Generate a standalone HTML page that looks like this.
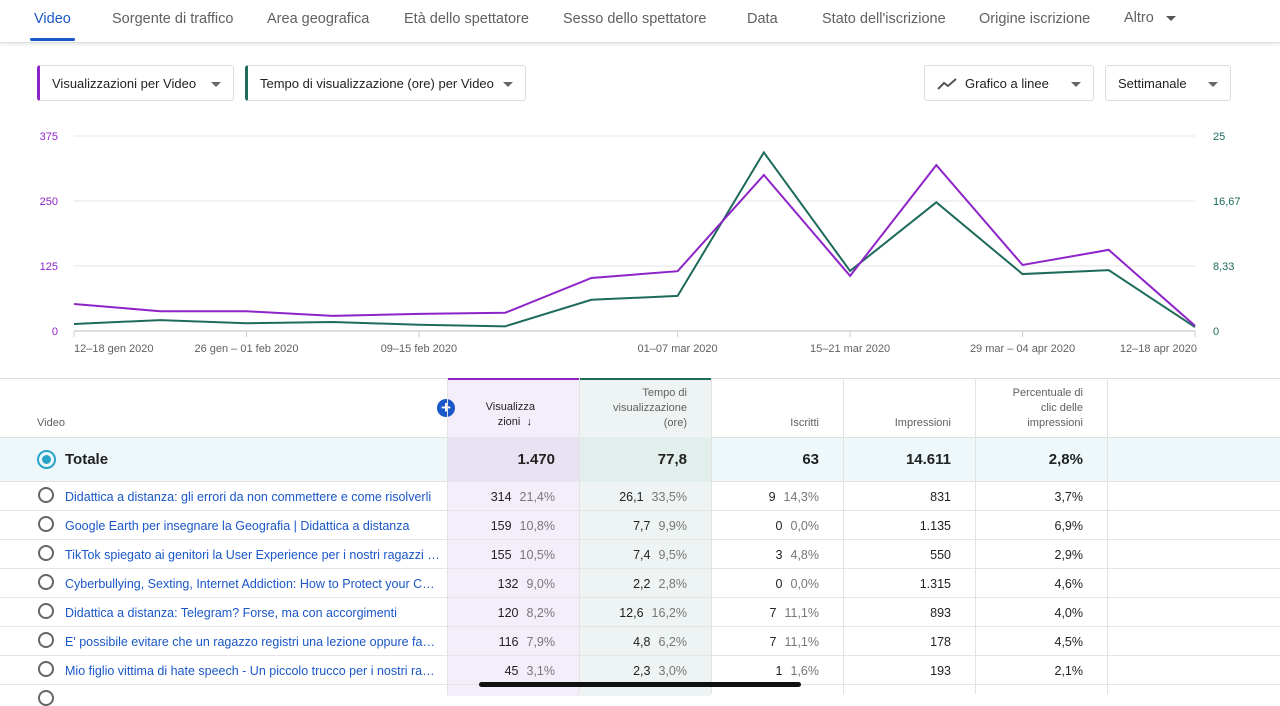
<!DOCTYPE html>
<html><head><meta charset="utf-8"><style>
body{margin:0;width:1280px;height:694px;overflow:hidden;font-family:"Liberation Sans",sans-serif;background:#fff;position:relative;color:#222}
.tab{position:absolute;top:11px;font-size:14.5px;color:#606060}
.dd{position:absolute;top:65px;height:36px;border:1px solid #ddd;border-radius:3px;box-sizing:border-box;font-size:13px;line-height:36px;padding-left:12px;color:#222}
.dd .ar{position:absolute;right:12px;top:16px;width:0;height:0;border-left:5px solid transparent;border-right:5px solid transparent;border-top:5px solid #666}
.cell{position:absolute;font-size:12.5px;text-align:right;box-sizing:border-box;padding-right:24px}
.row{position:absolute;left:0;width:1280px;height:29px;border-bottom:1px solid #e5e5e5;box-sizing:border-box}
.radio{position:absolute;left:38px;width:16px;height:16px;border:2px solid #666;border-radius:50%;box-sizing:border-box}
.title{position:absolute;left:65px;font-size:12.5px;color:#1a57c9;white-space:nowrap;overflow:hidden;text-overflow:ellipsis;width:375px}
.pct{color:#777;margin-left:8px}
</style></head><body>
<div style="position:absolute;left:0;top:0;width:1280px;height:42px;border-bottom:1px solid #ddd;box-shadow:0 2px 3px rgba(0,0,0,.08)"></div>
<div class="tab" style="left:34px;color:#1a57c9">Video</div>
<div style="position:absolute;left:30px;top:38px;width:45px;height:3px;background:#1a57c9;border-radius:2px"></div>
<div class="tab" style="left:112px">Sorgente di traffico</div>
<div class="tab" style="left:267px">Area geografica</div>
<div class="tab" style="left:404px">Età dello spettatore</div>
<div class="tab" style="left:563px">Sesso dello spettatore</div>
<div class="tab" style="left:747px">Data</div>
<div class="tab" style="left:822px">Stato dell'iscrizione</div>
<div class="tab" style="left:979px">Origine iscrizione</div>
<div class="tab" style="left:1124px;top:10px">Altro <span style="display:inline-block;margin-left:8px;border-left:5px solid transparent;border-right:5px solid transparent;border-top:5px solid #555;vertical-align:middle"></span></div>

<div class="dd" style="left:37px;width:197px;border-left:3px solid #8e24c8">Visualizzazioni per Video<span class="ar"></span></div>
<div class="dd" style="left:245px;width:281px;border-left:3px solid #1e6b5c">Tempo di visualizzazione (ore) per Video<span class="ar"></span></div>
<div class="dd" style="left:924px;width:170px;padding-left:40px"><svg style="position:absolute;left:12px;top:11px" width="20" height="14"><polyline points="1,12 7,6 11,9 19,2" fill="none" stroke="#555" stroke-width="2"/></svg>Grafico a linee<span class="ar"></span></div>
<div class="dd" style="left:1105px;width:126px">Settimanale<span class="ar"></span></div>

<svg id="chart" width="1280" height="370" style="position:absolute;left:0;top:0"></svg>

<div style="position:absolute;left:0;top:378px;width:1280px;height:316px;border-top:1px solid #ddd">
<div style="position:absolute;left:447px;top:0;width:132px;height:316px;background:#f4eefa;border-top:2px solid #8e24c8;margin-top:-1px"></div>
<div style="position:absolute;left:579px;top:0;width:132px;height:316px;background:#eef4f3;border-top:2px solid #1e6b5c;margin-top:-1px"></div>
</div>
<div id="tbl"></div>
<div style="position:absolute;left:479px;top:682px;width:322px;height:5px;background:#111;border-radius:3px"></div>

<script>
const categories=["12–18 gen 2020","19–25 gen 2020","26 gen – 01 feb 2020","02–08 feb 2020","09–15 feb 2020","16–22 feb 2020","23–29 feb 2020","01–07 mar 2020","08–14 mar 2020","15–21 mar 2020","22–28 mar 2020","29 mar – 04 apr 2020","05–11 apr 2020","12–18 apr 2020"];
const views=[52,38,38,29,33,35,102,115,300,106,319,127,156,10];
const watchHours=[0.9,1.4,1.0,1.15,0.8,0.6,4.0,4.5,22.9,7.7,16.5,7.3,7.8,0.5];
const leftTicks=["0","125","250","375"];
const rightTicks=["0","8,33","16,67","25"];
const leftMax=375,rightMax=25;
const xLabelIdx=[0,2,4,7,9,11,13];

const svg=document.getElementById('chart');const NS="http://www.w3.org/2000/svg";
const x0=74,x1=1195,yTop=136,yBot=331;
const X=i=>x0+(x1-x0)*i/(categories.length-1);
const YL=v=>yBot-(yBot-yTop)*v/leftMax;
const YR=v=>yBot-(yBot-yTop)*v/rightMax;
function mk(t,a){const e=document.createElementNS(NS,t);for(const k in a)e.setAttribute(k,a[k]);svg.appendChild(e);return e;}
leftTicks.forEach((t,i)=>{const y=yBot-(yBot-yTop)*i/(leftTicks.length-1);
 const g=mk('line',{x1:x0,x2:x1,y1:y,y2:y,stroke:i?'#e6e6e6':'#bbb','stroke-width':1});
 
 const l=mk('text',{x:58,y:y+4,'text-anchor':'end','font-size':11,fill:'#8e24c8','font-family':'Liberation Sans'});l.textContent=t;
 
 const r=mk('text',{x:1213,y:y+4,'font-size':11,fill:'#1e6b5c','font-family':'Liberation Sans'});r.textContent=rightTicks[i];
 });
xLabelIdx.forEach(i=>{const x=X(i);
 const tk=mk('line',{x1:x,x2:x,y1:yBot,y2:yBot+6,stroke:'#ccc'});
 const t=mk('text',{x:i==0?x:(i==categories.length-1?x+2:x),y:352,'text-anchor':i==0?'start':(i==categories.length-1?'end':'middle'),'font-size':11,fill:'#606060','font-family':'Liberation Sans'});t.textContent=categories[i];
 });
const gl=mk('polyline',{points:watchHours.map((v,i)=>X(i)+','+YR(v)).join(' '),fill:'none',stroke:'#1e6b5c','stroke-width':2});

const pl=mk('polyline',{points:views.map((v,i)=>X(i)+','+YL(v)).join(' '),fill:'none',stroke:'#8e24c8','stroke-width':2});


const rows=[
["Didattica a distanza: gli errori da non commettere e come risolverli","314","21,4%","26,1","33,5%","9","14,3%","831","3,7%"],
["Google Earth per insegnare la Geografia | Didattica a distanza","159","10,8%","7,7","9,9%","0","0,0%","1.135","6,9%"],
["TikTok spiegato ai genitori la User Experience per i nostri ragazzi - Educazione digitale","155","10,5%","7,4","9,5%","3","4,8%","550","2,9%"],
["Cyberbullying, Sexting, Internet Addiction: How to Protect your Children","132","9,0%","2,2","2,8%","0","0,0%","1.315","4,6%"],
["Didattica a distanza: Telegram? Forse, ma con accorgimenti","120","8,2%","12,6","16,2%","7","11,1%","893","4,0%"],
["E' possibile evitare che un ragazzo registri una lezione oppure faccia screenshot?","116","7,9%","4,8","6,2%","7","11,1%","178","4,5%"],
["Mio figlio vittima di hate speech - Un piccolo trucco per i nostri ragazzi","45","3,1%","2,3","3,0%","1","1,6%","193","2,1%"]];
let h='';
// header
h+='<div style="position:absolute;left:37px;top:417px;font-size:11px;color:#606060">Video</div>';
h+='<div style="position:absolute;left:437px;top:399px;width:18px;height:18px;border-radius:50%;background:#1a57c9;color:#fff;font-size:17px;line-height:17px;text-align:center;font-weight:bold">+</div>';
const hdr=[[447,'Visualizza<br>zioni &nbsp;↓&nbsp;','column-header-views',400],[579,'Tempo di<br>visualizzazione<br>(ore)','column-header-watchtime',386],[711,'Iscritti','column-header-subscribers',416],[843,'Impressioni','column-header-impressions',416],[975,'Percentuale di<br>clic delle<br>impressioni','column-header-ctr',386]];
hdr.forEach(c=>{h+=`<div style="position:absolute;left:${c[0]}px;width:132px;top:${c[3]}px;text-align:right;padding-right:${c[0]==447?44:24}px;box-sizing:border-box;font-size:11px;line-height:15px;color:${c[0]==447?'#222':'#606060'}">${c[1]}</div>`;});
// total row
h+='<div style="position:absolute;left:0;top:437px;width:1280px;height:45px;background:#eef8fa;border-top:1px solid #e0e0e0;border-bottom:1px solid #e0e0e0;box-sizing:border-box"></div>';
h+='<div style="position:absolute;left:447px;top:437px;width:132px;height:45px;background:#e9e2f2"></div>';
h+='<div style="position:absolute;left:579px;top:437px;width:132px;height:45px;background:#e1eeec"></div>';
h+='<div style="position:absolute;left:37px;top:450px;width:19px;height:19px;border:2px solid #2aa3c9;border-radius:50%;box-sizing:border-box"><div style="margin:3px;width:9px;height:9px;border-radius:50%;background:#2aa3c9"></div></div>';
h+='<div style="position:absolute;left:65px;top:451px;font-size:15px;font-weight:bold">Totale</div>';
["1.470","77,8","63","14.611","2,8%"].forEach((v,i)=>{h+=`<div class="cell" style="left:${447+132*i}px;width:132px;top:451px;font-size:15px;font-weight:bold">${v}</div>`;});
rows.forEach((r,k)=>{const y=482+29*k;
 h+=`<div class="row" style="top:${y}px"></div>`;
 h+=`<div class="radio" style="top:${y+5}px"></div>`;
 h+=`<div class="title" style="top:${y+8}px">${r[0]}</div>`;
 const cells=[r[1]+'<span class="pct">'+r[2]+'</span>',r[3]+'<span class="pct">'+r[4]+'</span>',r[5]+'<span class="pct">'+r[6]+'</span>',r[7],r[8]];
 cells.forEach((c,i)=>{h+=`<div class="cell" style="left:${447+132*i}px;width:132px;top:${y+8}px">${c}</div>`;});
});
[447,579,711,843,975,1107].forEach(x=>{h+=`<div style="position:absolute;left:${x}px;top:378px;width:1px;height:316px;background:#e3e3e3"></div>`;});
h+='<div class="radio" style="top:690px"></div>';
document.getElementById('tbl').innerHTML=h;
</script>
</body></html>
